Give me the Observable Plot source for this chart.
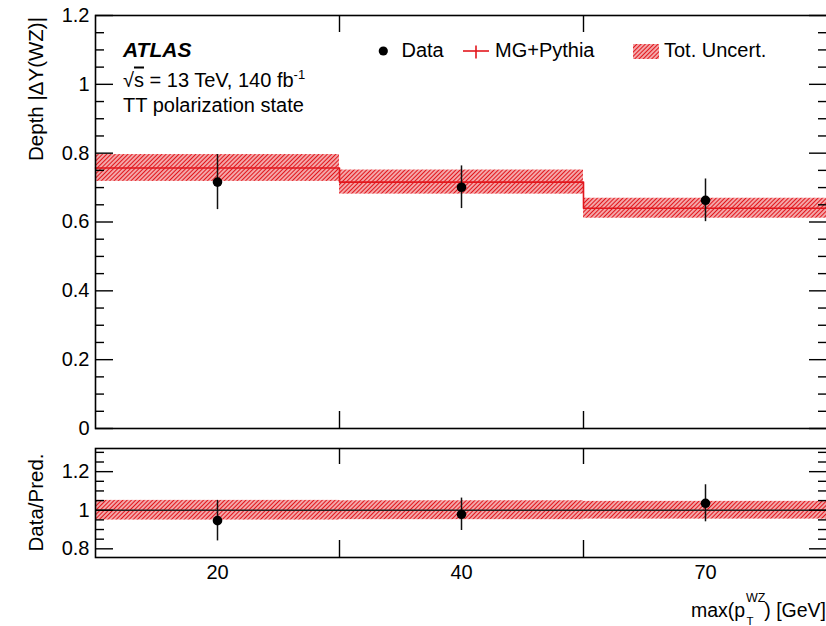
<!DOCTYPE html>
<html><head><meta charset="utf-8">
<script src="https://cdn.jsdelivr.net/npm/d3@7"></script>
<script src="https://cdn.jsdelivr.net/npm/@observablehq/plot@0.6"></script>
<style>
html,body{margin:0;padding:0;background:#fff;overflow:hidden}
#wrap{position:relative;width:826px;height:626px;overflow:hidden;font-family:"Liberation Sans",Arial,Helvetica,sans-serif;}
#wrap > svg{position:absolute;left:0;}
</style></head><body><div id="wrap"></div>
<script>
// ---- data ----
const binLabels = ["20", "40", "70"];
const binEdges = [0, 1, 2, 3];
const predValues = [0.757, 0.716, 0.640];
const predUncert = [0.039, 0.035, 0.029];
const dataValues = [0.716, 0.701, 0.663];
const dataErrors = [0.080, 0.062, 0.062];
const ratioValues = [0.946, 0.979, 1.036];
const ratioErrors = [0.105, 0.084, 0.096];
const ratioUncert = [0.051, 0.049, 0.046];
const topTicks = [0, 0.2, 0.4, 0.6, 0.8, 1, 1.2];
const topTickLabels = ["0", "0.2", "0.4", "0.6", "0.8", "1", "1.2"];
const topMinor = [0.05,0.1,0.15,0.25,0.3,0.35,0.45,0.5,0.55,0.65,0.7,0.75,0.85,0.9,0.95,1.05,1.1,1.15];
const ratioTicks = [0.8, 1, 1.2];
const ratioTickLabels = ["0.8", "1", "1.2"];
const ratioMinor = [0.85, 0.9, 0.95, 1.05, 1.1, 1.15, 1.25, 1.3];
const innerEdges = [1, 2];

const bins = binLabels.map((label, i) => ({
  label,
  x1: binEdges[i], x2: binEdges[i + 1], xc: (binEdges[i] + binEdges[i + 1]) / 2,
  pred: predValues[i], unc: predUncert[i],
  data: dataValues[i], err: dataErrors[i],
  ratio: ratioValues[i], rerr: ratioErrors[i], runc: ratioUncert[i]
}));
const steps = binEdges.map((e, i) => ({x: e, y: predValues[Math.min(i, predValues.length - 1)]}));
const binCenters = bins.map(d => d.xc);

const FONT = '"Liberation Sans", Arial, Helvetica, sans-serif';
const RED = "#e2161c";
const W = 827, ML = 95, PW = W - ML;

function addHatch(svg, id) {
  const ns = "http://www.w3.org/2000/svg";
  const defs = document.createElementNS(ns, "defs");
  defs.innerHTML = `<pattern id="${id}" patternUnits="userSpaceOnUse" width="3" height="3" patternTransform="rotate(45)"><rect x="0" y="0" width="3" height="3" fill="#fbe3e3"/><line x1="1.5" y1="-1" x2="1.5" y2="4" stroke="${RED}" stroke-width="1.6"/></pattern>`;
  svg.insertBefore(defs, svg.firstChild);
}

const baseStyle = {fontFamily: FONT, fontSize: "20px", background: "transparent", maxWidth: "none", overflow: "visible", color: "#000"};

// ---- top panel ----
const topH = 440, topMT = 15, topMB = 12, topPH = topH - topMT - topMB;
const mainPlot = Plot.plot({
  width: W, height: topH,
  marginLeft: ML, marginRight: 0, marginTop: topMT, marginBottom: topMB,
  style: baseStyle,
  x: {domain: [0, 3], axis: null},
  y: {domain: [0, 1.2]},
  marks: [
    Plot.rect(bins, {x1: "x1", x2: "x2", y1: d => d.pred - d.unc, y2: d => d.pred + d.unc, fill: "url(#hatchTop)"}),
    Plot.line(steps, {x: "x", y: "y", curve: "step-after", stroke: RED, strokeWidth: 1.6}),
    Plot.ruleX(bins, {x: "xc", y1: d => d.data - d.err, y2: d => d.data + d.err, stroke: "#111", strokeWidth: 1.5}),
    Plot.dot(bins, {x: "xc", y: "data", r: 4.8, fill: "#000", stroke: null}),
    Plot.ruleY(topTicks, {insetRight: PW - 18, stroke: "#000", strokeWidth: 1.4}),
    Plot.ruleY(topTicks, {insetLeft: PW - 18, stroke: "#000", strokeWidth: 1.4}),
    Plot.ruleY(topMinor, {insetRight: PW - 9, stroke: "#000", strokeWidth: 1.4}),
    Plot.ruleY(topMinor, {insetLeft: PW - 9, stroke: "#000", strokeWidth: 1.4}),
    Plot.ruleX(innerEdges, {insetBottom: topPH - 17, stroke: "#000", strokeWidth: 1.4}),
    Plot.ruleX(innerEdges, {insetTop: topPH - 17, stroke: "#000", strokeWidth: 1.4}),
    Plot.axisY({ticks: topTicks, tickFormat: d => topTickLabels[topTicks.indexOf(d)], tickSize: 0, tickPadding: 6, label: null, fill: "#000"}),
    Plot.frame({stroke: "#000", strokeWidth: 1.6})
  ]
});
addHatch(mainPlot, "hatchTop");
mainPlot.style.top = "0px";

// ---- ratio panel ----
const botTop = 430, botH = 196, botMT = 18, botMB = 69, botPH = botH - botMT - botMB;
const ratioPlot = Plot.plot({
  width: W, height: botH,
  marginLeft: ML, marginRight: 0, marginTop: botMT, marginBottom: botMB,
  style: baseStyle,
  x: {domain: [0, 3]},
  y: {domain: [0.755, 1.32]},
  marks: [
    Plot.rect(bins, {x1: "x1", x2: "x2", y1: d => 1 - d.runc, y2: d => 1 + d.runc, fill: "url(#hatchBot)"}),
    Plot.ruleY([1], {stroke: "#222", strokeWidth: 1.6}),
    Plot.ruleX(bins, {x: "xc", y1: d => d.ratio - d.rerr, y2: d => d.ratio + d.rerr, stroke: "#111", strokeWidth: 1.5}),
    Plot.dot(bins, {x: "xc", y: "ratio", r: 4.8, fill: "#000", stroke: null}),
    Plot.ruleY(ratioTicks, {insetRight: PW - 18, stroke: "#000", strokeWidth: 1.4}),
    Plot.ruleY(ratioTicks, {insetLeft: PW - 18, stroke: "#000", strokeWidth: 1.4}),
    Plot.ruleY(ratioMinor, {insetRight: PW - 9, stroke: "#000", strokeWidth: 1.4}),
    Plot.ruleY(ratioMinor, {insetLeft: PW - 9, stroke: "#000", strokeWidth: 1.4}),
    Plot.ruleX(innerEdges, {insetBottom: botPH - 16, stroke: "#000", strokeWidth: 1.4}),
    Plot.ruleX(innerEdges, {insetTop: botPH - 17, stroke: "#000", strokeWidth: 1.4}),
    Plot.axisY({ticks: ratioTicks, tickFormat: d => ratioTickLabels[ratioTicks.indexOf(d)], tickSize: 0, tickPadding: 6, label: null, fill: "#000"}),
    Plot.axisX({ticks: binCenters, tickFormat: d => binLabels[Math.floor(d)], tickSize: 0, tickPadding: 7, label: null, fill: "#000"}),
    Plot.frame({stroke: "#000", strokeWidth: 1.6})
  ]
});
addHatch(ratioPlot, "hatchBot");
ratioPlot.style.top = botTop + "px";

const wrap = document.getElementById("wrap");
wrap.appendChild(mainPlot);
wrap.appendChild(ratioPlot);

// ---- annotations, legend and axis titles ----
const svgNS = "http://www.w3.org/2000/svg";
const ann = document.createElementNS(svgNS, "svg");
ann.setAttribute("width", 826);
ann.setAttribute("height", 626);
ann.style.top = "0px";
ann.style.fontFamily = FONT;
ann.innerHTML = `
<defs><pattern id="hatchLeg" patternUnits="userSpaceOnUse" width="3" height="3" patternTransform="rotate(45)"><rect x="0" y="0" width="3" height="3" fill="#fbe3e3"/><line x1="1.5" y1="-1" x2="1.5" y2="4" stroke="${RED}" stroke-width="1.6"/></pattern></defs>
<text x="123" y="56.5" font-size="21" font-weight="bold" font-style="italic">ATLAS</text>
<text x="123" y="86.5" font-size="20">√<tspan text-decoration="overline">s</tspan> = 13 TeV, 140 fb<tspan font-size="13" dy="-8">-1</tspan></text>
<text x="123" y="111.5" font-size="20">TT polarization state</text>
<circle cx="383.3" cy="51" r="4.6" fill="#000"/>
<text x="401.5" y="56.5" font-size="20">Data</text>
<line x1="463" y1="51" x2="489" y2="51" stroke="${RED}" stroke-width="1.6"/>
<line x1="476" y1="45.5" x2="476" y2="58.5" stroke="${RED}" stroke-width="1.6"/>
<text x="495" y="56.5" font-size="20">MG+Pythia</text>
<rect x="633" y="44" width="26" height="15" fill="url(#hatchLeg)"/>
<text x="664" y="56.5" font-size="20">Tot. Uncert.</text>
<text transform="translate(43,17) rotate(-90)" text-anchor="end" font-size="20.5">Depth |ΔY(WZ)|</text>
<text transform="translate(43,502.5) rotate(-90)" text-anchor="middle" font-size="20.5">Data/Pred.</text>
<text x="691" y="617" font-size="19.5">max(p</text>
<text x="746" y="601.5" font-size="12.5">WZ</text>
<text x="746.5" y="625" font-size="11.5">T</text>
<text x="826" y="617" font-size="19.5" text-anchor="end">) [GeV]</text>
`;
wrap.appendChild(ann);
</script>
</body></html>
